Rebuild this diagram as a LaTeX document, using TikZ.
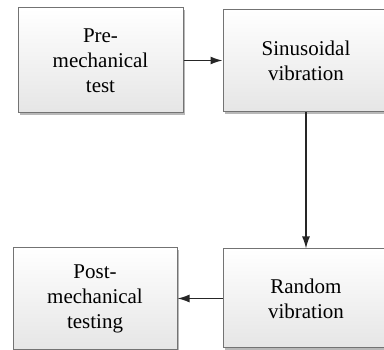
\documentclass[tikz,border=0pt]{standalone}
\usepackage{fontspec}
\setmainfont{Liberation Serif}
\usepackage{tikz}
\usetikzlibrary{arrows.meta,shadows}
\tikzset{
    >={Latex[length=12pt,width=8pt]},
    every node/.append style={align=center,font=\fontsize{21}{25}\selectfont},
    stage/.style={rectangle,draw=black!55,line width=1pt,top color=white,bottom color=black!10,
        drop shadow={shadow xshift=2pt,shadow yshift=-2pt,fill=black!35,opacity=0.8},
        minimum width=#1,inner sep=0pt},
    link/.style={->,line width=1.4pt,black!85},
}

\begin{document}
\begin{tikzpicture}[x=1pt,y=1pt]
        \path[use as bounding box,clip] (0,0) rectangle (384,350);
        \node[stage=165pt,minimum height=105pt] (pre) at (100.5,289.5) {Pre-\\mechanical\\test};
        \node[stage=166pt,minimum height=102pt] (sine) at (306,289) {Sinusoidal\\vibration};
        \node[stage=166pt,minimum height=99pt] (rand) at (306,51.5) {Random\\vibration};
        \node[stage=164pt,minimum height=102pt] (post) at (95,51) {Post-\\mechanical\\testing};

        \draw[link] (pre.east) -- (pre.east -| sine.west);
        \draw[link] (sine.south) -- (rand.north);
        \draw[link] (rand.west) -- (rand.west -| post.east);
\end{tikzpicture}
\end{document}
